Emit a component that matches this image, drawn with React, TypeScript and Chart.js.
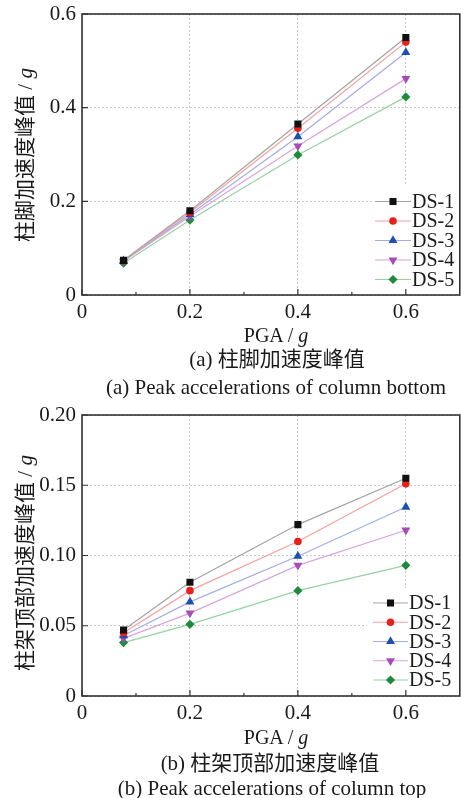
import React, { useEffect, useRef } from 'react';
import { Chart, registerables } from 'chart.js';

Chart.register(...registerables);

// ---------- data ----------
const pga = [0.077, 0.2, 0.4, 0.6];
const seriesLabels = ['DS-1', 'DS-2', 'DS-3', 'DS-4', 'DS-5'];

// (a) column bottom peak acceleration
const bottomDS1 = [0.074, 0.18, 0.365, 0.55];
const bottomDS2 = [0.073, 0.176, 0.356, 0.54];
const bottomDS3 = [0.073, 0.172, 0.338, 0.518];
const bottomDS4 = [0.072, 0.168, 0.318, 0.462];
const bottomDS5 = [0.068, 0.16, 0.299, 0.423];

// (b) column top peak acceleration
const topDS1 = [0.047, 0.081, 0.122, 0.155];
const topDS2 = [0.045, 0.075, 0.11, 0.151];
const topDS3 = [0.043, 0.067, 0.0995, 0.1345];
const topDS4 = [0.041, 0.059, 0.093, 0.118];
const topDS5 = [0.038, 0.051, 0.075, 0.093];

const xTicks = [0, 0.2, 0.4, 0.6];
const xMinorTicks = [0.1, 0.3, 0.5];
const bottomYTicks = [0, 0.2, 0.4, 0.6];
const topYTicks = [0, 0.05, 0.1, 0.15, 0.2];

// ---------- styles ----------
const lineColors = ['#a3a3a3', '#f5a0a0', '#a4ace6', '#d8a4de', '#94d3a2'];
const markerColors = ['#111111', '#e8201c', '#1d4fb3', '#a64db5', '#1f8a3e'];
const markerStyles = ['rect', 'circle', 'triangle', 'triangle', 'rectRot'];
const markerRotations = [0, 0, 0, 180, 0];
const markerRadii = [5, 3.8, 5.2, 5.2, 4.6];

const SERIF = "'Liberation Serif', 'Times New Roman', serif";
const MIXED = "'Liberation Serif', 'Noto Sans CJK SC', serif";
const CANVAS_W = 465; // canvas slightly wider than page; Chart.js reserves ~5px right margin

function makeDatasets(series: number[][]) {
  return series.map((vals, i) => ({
    label: seriesLabels[i],
    data: pga.map((x, j) => ({ x, y: vals[j] })),
    borderColor: lineColors[i],
    borderWidth: 1.2,
    backgroundColor: markerColors[i],
    pointBackgroundColor: markerColors[i],
    pointBorderColor: markerColors[i],
    pointBorderWidth: 0,
    pointStyle: markerStyles[i],
    pointRotation: markerRotations[i],
    pointRadius: markerRadii[i],
    pointHoverRadius: markerRadii[i],
    tension: 0,
    fill: false,
  }));
}

function drawMarker(ctx: CanvasRenderingContext2D, style: string, x: number, y: number, r: number, rotDeg: number) {
  let rad = (rotDeg * Math.PI) / 180;
  ctx.beginPath();
  if (style === 'rect') {
    const s = r * Math.SQRT1_2;
    ctx.rect(x - s, y - s, 2 * s, 2 * s);
  } else if (style === 'circle') {
    ctx.arc(x, y, r, 0, Math.PI * 2);
  } else if (style === 'triangle') {
    const t = (2 * Math.PI) / 3;
    ctx.moveTo(x + Math.sin(rad) * r, y - Math.cos(rad) * r);
    rad += t;
    ctx.lineTo(x + Math.sin(rad) * r, y - Math.cos(rad) * r);
    rad += t;
    ctx.lineTo(x + Math.sin(rad) * r, y - Math.cos(rad) * r);
    ctx.closePath();
  } else if (style === 'rectRot') {
    ctx.moveTo(x - r, y);
    ctx.lineTo(x, y - r);
    ctx.lineTo(x + r, y);
    ctx.lineTo(x, y + r);
    ctx.closePath();
  }
  ctx.fill();
}

const boxLegendPlugin = {
  id: 'boxLegend',
  afterDatasetsDraw(chart: any, _args: any, opts: any) {
    const { ctx, chartArea } = chart;
    ctx.save();
    ctx.fillStyle = '#ffffff';
    ctx.fillRect(opts.boxLeft, opts.boxTop, chartArea.right - opts.boxLeft, chartArea.bottom - opts.boxTop);
    chart.data.datasets.forEach((ds: any, i: number) => {
      const y = opts.firstRowY + i * opts.rowGap;
      ctx.strokeStyle = ds.borderColor;
      ctx.lineWidth = 1.2;
      ctx.beginPath();
      ctx.moveTo(opts.lineX0, y);
      ctx.lineTo(opts.lineX1, y);
      ctx.stroke();
      ctx.fillStyle = ds.pointBackgroundColor;
      drawMarker(ctx, ds.pointStyle, (opts.lineX0 + opts.lineX1) / 2, y, ds.pointRadius, ds.pointRotation);
      ctx.fillStyle = '#1a1a1a';
      ctx.font = `20px ${SERIF}`;
      ctx.textBaseline = 'middle';
      ctx.textAlign = 'left';
      ctx.fillText(ds.label, opts.textX, y + 1);
    });
    ctx.restore();
  },
};

const frameTicksPlugin = {
  id: 'frameTicks',
  afterDraw(chart: any, _args: any, opts: any) {
    const { ctx, chartArea: a, scales } = chart;
    const xs = scales.x;
    const ys = scales.y;
    ctx.save();
    ctx.strokeStyle = '#333333';
    ctx.lineWidth = 1.2;
    ctx.beginPath();
    for (const v of opts.yMajor) {
      const py = ys.getPixelForValue(v);
      ctx.moveTo(a.left, py);
      ctx.lineTo(a.left + 6, py);
    }
    for (const v of opts.xMajor) {
      const px = xs.getPixelForValue(v);
      ctx.moveTo(px, a.bottom);
      ctx.lineTo(px, a.bottom - 6);
    }
    for (const v of opts.xMinor) {
      const px = xs.getPixelForValue(v);
      ctx.moveTo(px, a.bottom);
      ctx.lineTo(px, a.bottom - 3);
    }
    ctx.stroke();
    ctx.lineWidth = 1.6;
    ctx.strokeRect(a.left, a.top, a.right - a.left, a.bottom - a.top);
    ctx.restore();
  },
};

type PanelProps = {
  series: number[][];
  yTicks: number[];
  yMax: number;
  decimals: number;
  top: number;
  padTop: number;
  xAxisHeight: number;
  legend: any;
};

function Panel({ series, yTicks, yMax, decimals, top, padTop, xAxisHeight, legend }: PanelProps) {
  const ref = useRef<HTMLCanvasElement>(null);
  useEffect(() => {
    const chart = new Chart(ref.current as HTMLCanvasElement, {
      type: 'line',
      data: { datasets: makeDatasets(series) as any },
      options: {
        responsive: false,
        animation: false,
        devicePixelRatio: 1,
        layout: { padding: { top: padTop, right: 1, left: 0, bottom: 0 } },
        plugins: {
          legend: { display: false },
          tooltip: { enabled: false },
          boxLegend: legend,
          frameTicks: { yMajor: yTicks, xMajor: xTicks, xMinor: xMinorTicks },
        } as any,
        scales: {
          x: {
            type: 'linear',
            min: 0,
            max: 0.7,
            afterBuildTicks: (s: any) => {
              s.ticks = xTicks.map((v) => ({ value: v }));
            },
            afterFit: (s: any) => {
              s.height = xAxisHeight;
            },
            grid: { color: '#c8c8c8', lineWidth: 1, drawTicks: false },
            border: { display: false, dash: [2, 2] },
            ticks: {
              padding: 0,
              color: '#1a1a1a',
              autoSkip: false,
              maxRotation: 0,
              font: { family: SERIF, size: 21, lineHeight: 1.68 },
              callback: (v: any) => (Number(v) === 0 ? '0' : Number(v).toFixed(1)),
            },
          },
          y: {
            type: 'linear',
            min: 0,
            max: yMax,
            afterBuildTicks: (s: any) => {
              s.ticks = yTicks.map((v) => ({ value: v }));
            },
            afterFit: (s: any) => {
              s.width = 82;
            },
            grid: { color: '#c8c8c8', lineWidth: 1, drawTicks: false },
            border: { display: false, dash: [2, 2] },
            ticks: {
              padding: 6,
              color: '#1a1a1a',
              autoSkip: false,
              font: { family: SERIF, size: 21, lineHeight: 0.6 },
              callback: (v: any) => (Number(v) === 0 ? '0' : Number(v).toFixed(decimals)),
            },
          },
        },
      } as any,
      plugins: [boxLegendPlugin, frameTicksPlugin],
    });
    return () => chart.destroy();
  }, []);
  return (
    <canvas
      ref={ref}
      width={CANVAS_W}
      height={330}
      style={{ position: 'absolute', left: 0, top, width: CANVAS_W, height: 330 }}
    />
  );
}

function Label({ cx, cy, children, rotate, size }: any) {
  return (
    <div
      style={{
        position: 'absolute',
        left: cx,
        top: cy,
        transform: `translate(-50%, -50%)${rotate ? ' rotate(-90deg)' : ''}`,
        whiteSpace: 'nowrap',
        fontFamily: MIXED,
        fontSize: size || 20,
        lineHeight: 1,
        color: '#1a1a1a',
      }}
    >
      {children}
    </div>
  );
}

export default function App() {
  return (
    <div style={{ position: 'absolute', left: 0, top: 0, width: 461, height: 798, background: '#fff', overflow: 'hidden' }}>
      <Panel
        series={[bottomDS1, bottomDS2, bottomDS3, bottomDS4, bottomDS5]}
        yTicks={bottomYTicks}
        yMax={0.6}
        decimals={1}
        top={0}
        padTop={14}
        xAxisHeight={35}
        legend={{ boxLeft: 374, boxTop: 186, firstRowY: 201.5, rowGap: 19.5, lineX0: 375, lineX1: 411, textX: 412 }}
      />
      <Panel
        series={[topDS1, topDS2, topDS3, topDS4, topDS5]}
        yTicks={topYTicks}
        yMax={0.2}
        decimals={2}
        top={400}
        padTop={15}
        xAxisHeight={34}
        legend={{ boxLeft: 367, boxTop: 188, firstRowY: 203, rowGap: 19.25, lineX0: 373, lineX1: 408, textX: 409 }}
      />
      <Label cx={25} cy={155} rotate size={21}>
        柱脚加速度峰值 / <i style={{ fontFamily: SERIF }}>g</i>
      </Label>
      <Label cx={276} cy={335}>
        PGA / <i>g</i>
      </Label>
      <Label cx={277} cy={359} size={21}>(a) 柱脚加速度峰值</Label>
      <Label cx={276} cy={387} size={21}>(a) Peak accelerations of column bottom</Label>

      <Label cx={25} cy={563} rotate size={21}>
        柱架顶部加速度峰值 / <i style={{ fontFamily: SERIF }}>g</i>
      </Label>
      <Label cx={276} cy={737}>
        PGA / <i>g</i>
      </Label>
      <Label cx={270} cy={763} size={21}>(b) 柱架顶部加速度峰值</Label>
      <Label cx={272} cy={788} size={21}>(b) Peak accelerations of column top</Label>
    </div>
  );
}
